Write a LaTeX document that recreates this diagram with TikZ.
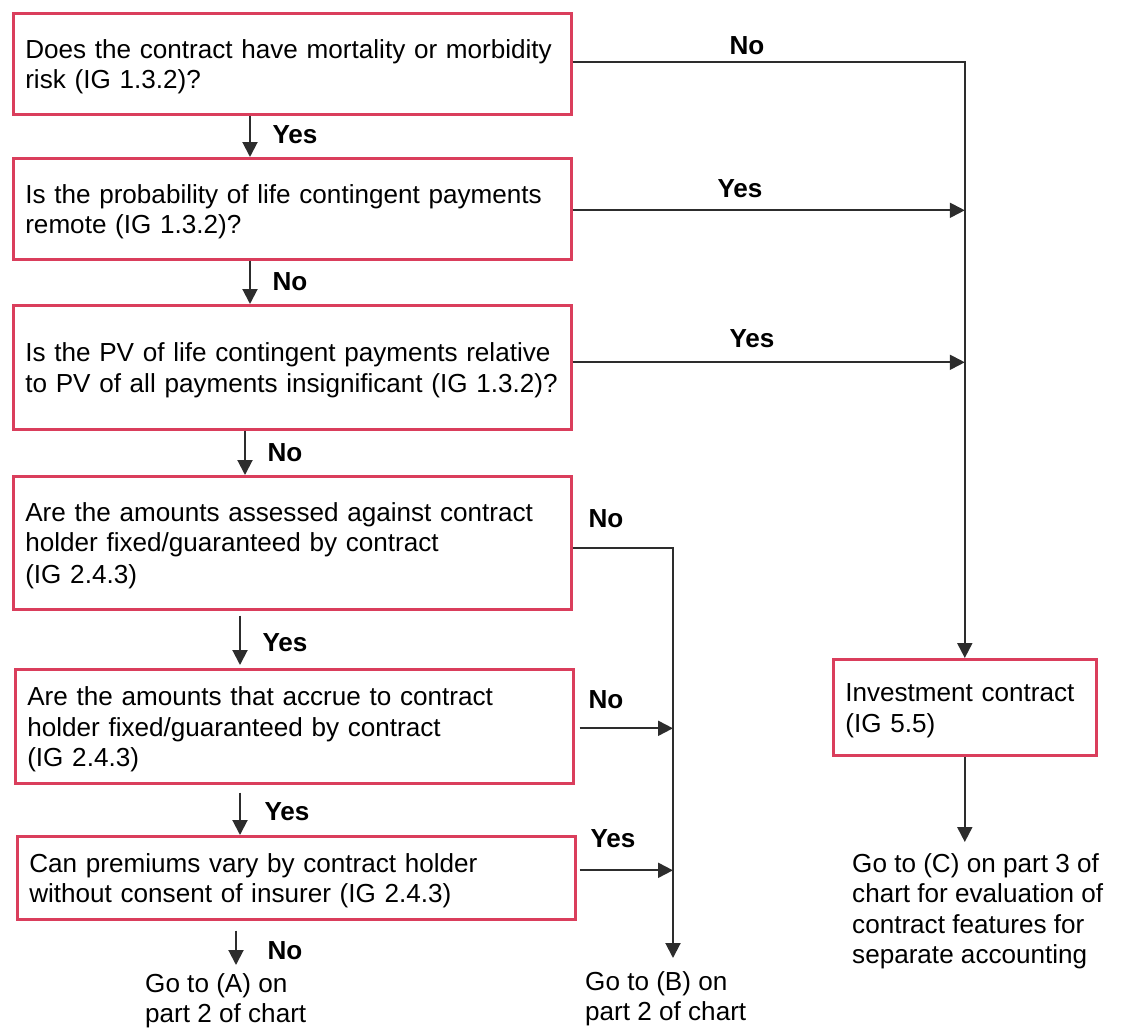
\documentclass[tikz,border=0pt]{standalone}
\usepackage{fontspec}
\setmainfont{Liberation Sans}
\usetikzlibrary{arrows.meta}
\definecolor{boxred}{RGB}{218,62,92}
\definecolor{linegray}{RGB}{45,45,45}
% extra room above the first line of a box, pushing its text slightly down
\newcommand{\toproom}{\rule{0pt}{25pt}}
\begin{document}
\begin{tikzpicture}[x=1pt,y=-1pt,
  every node/.style={font=\fontsize{26.1}{30.5}\selectfont},
  qbox/.style={draw=boxred, line width=2.6pt, anchor=north west,
    inner xsep=12pt, inner ysep=0pt, align=left,
    minimum width=558pt, text width=534pt},
  ibox/.style={qbox, minimum width=263pt, text width=239pt},
  goto/.style={anchor=north west, inner sep=0pt, align=left},
  lbl/.style={font=\fontsize{26.1}{30.5}\selectfont\bfseries, inner sep=0pt},
  arr/.style={draw=linegray, line width=2pt, -{Triangle[length=15pt,width=15pt]}}
]
\useasboundingbox (0,0) rectangle (1122,1028);

% question boxes
\node[qbox, minimum height=101pt] (q1) at (12,12)
  {\toproom\mbox{Does the contract have mortality or morbidity}\\\mbox{risk (IG 1.3.2)?}};
\node[qbox, minimum height=101pt] (q2) at (12,157)
  {\toproom\mbox{Is the probability of life contingent payments}\\\mbox{remote (IG 1.3.2)?}};
\node[qbox, minimum height=124pt] (q3) at (12,304)
  {\toproom\mbox{Is the PV of life contingent payments relative}\\\mbox{to PV of all payments insignificant (IG 1.3.2)?}};
\node[qbox, minimum height=133pt] (q4) at (12,475)
  {\toproom\mbox{Are the amounts assessed against contract}\\\mbox{holder fixed/guaranteed by contract}\\[1.5pt]\mbox{(IG 2.4.3)}};
\node[qbox, minimum height=114pt] (q5) at (14,668)
  {\toproom\mbox{Are the amounts that accrue to contract}\\\mbox{holder fixed/guaranteed by contract}\\\mbox{(IG 2.4.3)}};
\node[qbox, minimum height=83pt] (q6) at (16,835)
  {\toproom\mbox{Can premiums vary by contract holder}\\\mbox{without consent of insurer (IG 2.4.3)}};
\node[ibox, minimum height=96pt] (q7) at (832,658)
  {\toproom\mbox{Investment contract}\\\mbox{(IG 5.5)}};

% outcome texts
\node[goto] (goA) at (145,973) {Go to (A) on\\part 2 of chart};
\node[goto] (goB) at (585,971) {Go to (B) on\\part 2 of chart};
\node[goto] (goC) at (852,853)
  {Go to (C) on part 3 of\\chart for evaluation of\\contract features for\\separate accounting};

% free ends of connectors
\coordinate (ago) at (236,965);
\coordinate (bgo) at (673,958);
\coordinate (cgo) at (962,842);

% main column
\draw[arr] ([xshift=238pt]q1.south west) -- ([xshift=238pt]q2.north west);
\draw[arr] ([xshift=238pt]q2.south west) -- ([xshift=238pt]q3.north west);
\draw[arr] ([xshift=233pt]q3.south west) -- ([xshift=233pt]q4.north west);
\draw[arr] ([xshift=228pt,yshift=-5pt]q4.south west) -- ([xshift=226pt,yshift=3pt]q5.north west);
\draw[arr] ([xshift=226pt,yshift=-8pt]q5.south west) -- ([xshift=224pt]q6.north west);
\draw[arr] ([xshift=220pt,yshift=-10pt]q6.south west) -- (ago);

% branches to the investment contract
\draw[arr] ([yshift=1.5pt]q1.east) -| (q7.north);
\draw[arr] ([yshift=-1.5pt]q2.east) -- ([yshift=-1.5pt]q2.east -| q7.north);
\draw[arr] ([yshift=5pt]q3.east) -- ([yshift=5pt]q3.east -| q7.north);
\draw[arr] (q7.south) -- (q7.south |- cgo);

% branches to (B)
\draw[arr] ([yshift=-5.5pt]q4.east) -| (bgo);
\draw[arr] ([xshift=5pt,yshift=-2pt]q5.east) -- ([yshift=-2pt]q5.east -| bgo);
\draw[arr] ([xshift=3pt,yshift=7.5pt]q6.east) -- ([yshift=7.5pt]q6.east -| bgo);

% answer labels
\node[lbl] (l1) at (295,135) {Yes};
\node[lbl] (l2) at (290,282) {No};
\node[lbl] (l3) at (285,453) {No};
\node[lbl] (l4) at (285,643) {Yes};
\node[lbl] (l5) at (287,812) {Yes};
\node[lbl] (l6) at (285,951) {No};
\node[lbl] (r1) at (747,46) {No};
\node[lbl] (r2) at (740,189) {Yes};
\node[lbl] (r3) at (752,339) {Yes};
\node[lbl] (r4) at (606,519) {No};
\node[lbl] (r5) at (606,700) {No};
\node[lbl] (r6) at (613,839) {Yes};
\end{tikzpicture}
\end{document}
